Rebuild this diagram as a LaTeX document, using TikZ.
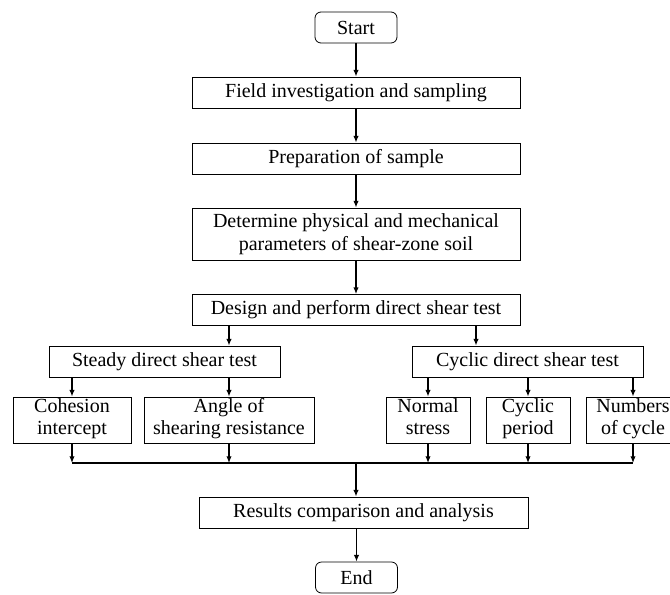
\documentclass[tikz,border=0pt]{standalone}
\usepackage{fontspec}
\setmainfont{Liberation Serif}
\usetikzlibrary{arrows.meta}

\begin{document}
\begin{tikzpicture}[x=0.75pt, y=-0.75pt,
  every node/.style = {font=\fontsize{15}{17.5}\selectfont, align=center, inner sep=0pt},
  term/.style = {draw, line width=0.6pt, rounded corners=4.5pt, minimum width=61.5pt, minimum height=23.25pt},
  stage/.style = {draw, line width=0.6pt, minimum width=246pt, minimum height=23.25pt},
  test/.style = {draw, line width=0.6pt, minimum width=173.25pt, minimum height=23.25pt},
  param/.style = {draw, line width=0.6pt, minimum height=34.5pt, font=\fontsize{15}{16.5}\selectfont,
    execute at begin node=\strut, execute at end node=\strut},
  flow/.style = {line width=0.9pt, -{Latex[length=5pt,width=4pt]}}]
\useasboundingbox (0,0) rectangle (670,595);

\node[term] (start) at (356,27.5) {Start};
\node[stage] (field) [below of = start, node distance=48.75pt] {Field investigation and sampling};
\node[stage] (prep) [below of = field, node distance=49.5pt] {Preparation of sample};
\node[stage, minimum height=39pt] (determine) [below of = prep, node distance=56.6pt]
  {Determine physical and mechanical\\parameters of shear-zone soil};
\node[stage] (design) [below of = determine, node distance=57pt] {Design and perform direct shear test};

\node[test] (steady) at (164.5,361.5) {Steady direct shear test};
\node[test] (cyclic) at (527.5,361.5) {Cyclic direct shear test};

\node[param, minimum width=88.5pt] (cohesion) at (72,420) {Cohesion\\intercept};
\node[param, minimum width=127.5pt] (angle) at (229,420) {Angle of\\shearing resistance};
\node[param, minimum width=63pt] (normal) at (428,420) {Normal\\stress};
\node[param, minimum width=63pt] (period) at (528,420) {Cyclic\\period};
\node[param, minimum width=70.5pt] (numbers) at (633,420) {Numbers\\of cycle};

\node[stage, minimum width=246.75pt] (results) at (363.5,512.5) {Results comparison and analysis};
\node[term] (end) at (356.5,577.5) {End};
\coordinate (split) at (476,310);
\coordinate (merge) at (356,463);

\draw[flow] (start) -- (field);
\draw[flow] (field) -- (prep);
\draw[flow] (prep) -- (determine);
\draw[flow] (determine) -- (design);
\draw[flow] (design.south -| angle.north) -- (steady.north -| angle.north);
\draw[flow] (design.south -| split) -- (cyclic.north -| split);

\draw[flow] (steady.south -| cohesion.north) -- (cohesion);
\draw[flow] (steady.south -| angle.north) -- (angle);
\draw[flow] (cyclic.south -| normal.north) -- (normal);
\draw[flow] (cyclic.south -| period.north) -- (period);
\draw[flow] (cyclic.south -| numbers.north) -- (numbers);

\draw[line width=0.9pt] (cohesion |- merge) -- (numbers |- merge);
\foreach \p in {cohesion, angle, normal, period, numbers}
  \draw[flow] (\p) -- (\p |- merge);
\draw[flow] (merge) -- (results.north -| merge);
\draw[flow] (results.south -| end.north) -- (end);
\end{tikzpicture}
\end{document}
